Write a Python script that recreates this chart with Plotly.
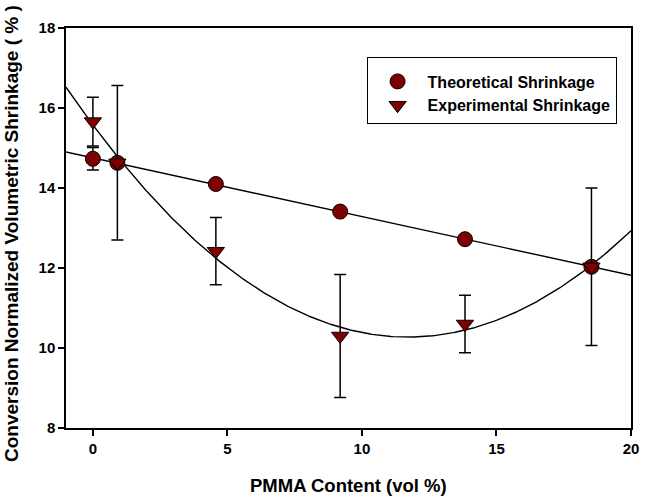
import numpy as np
import plotly.graph_objects as go

# Data
pmma_content = [0.0, 0.91, 4.57, 9.19, 13.83, 18.53]
theoretical_shrinkage = [14.73, 14.63, 14.10, 13.41, 12.72, 12.03]
theoretical_err = [0.28, 0.0, 0.0, 0.0, 0.0, 0.0]
experimental_shrinkage = [15.66, 14.63, 12.42, 10.30, 10.60, 12.03]
experimental_err = [0.61, 1.93, 0.84, 1.54, 0.72, 1.97]

x_ticks = [0, 5, 10, 15, 20]
y_ticks = [8, 10, 12, 14, 16, 18]
x_range = [-1, 20]
y_range = [8, 18]

# Regression curves fitted to the data (linear and quadratic)
xfit = np.linspace(x_range[0], x_range[1], 300)
lin = np.polyfit(pmma_content, theoretical_shrinkage, 1)
quad = np.polyfit(pmma_content, experimental_shrinkage, 2)

MARKER = "#7f0000"
FONT = "Liberation Sans, Arial, sans-serif"

fig = go.Figure()
fig.add_trace(go.Scatter(x=xfit, y=np.polyval(lin, xfit), mode="lines",
                         line=dict(color="black", width=1.4), showlegend=False,
                         hoverinfo="skip"))
fig.add_trace(go.Scatter(x=xfit, y=np.polyval(quad, xfit), mode="lines",
                         line=dict(color="black", width=1.4), showlegend=False,
                         hoverinfo="skip"))
fig.add_trace(go.Scatter(
    x=pmma_content, y=theoretical_shrinkage, mode="markers",
    name="Theoretical Shrinkage",
    marker=dict(symbol="circle", size=15, color=MARKER,
                line=dict(color="black", width=1)),
    error_y=dict(type="data", array=theoretical_err, color="black",
                 thickness=1.5, width=6, visible=True),
))
fig.add_trace(go.Scatter(
    x=pmma_content, y=experimental_shrinkage, mode="markers",
    name="Experimental Shrinkage",
    marker=dict(symbol="triangle-down", size=15, color=MARKER,
                line=dict(color="black", width=1)),
    error_y=dict(type="data", array=experimental_err, color="black",
                 thickness=1.5, width=6, visible=True),
))

axis_common = dict(showgrid=False, zeroline=False, showline=True,
                   linecolor="black", linewidth=1.5, mirror=True,
                   ticks="outside", ticklen=6, tickwidth=1.5, tickcolor="black",
                   tickfont=dict(family=FONT, size=15, color="black", weight="bold"))

fig.update_layout(
    width=648, height=501,
    margin=dict(l=66, r=9, t=28, b=73),
    paper_bgcolor="white", plot_bgcolor="white",
    font=dict(family=FONT, color="black"),
    xaxis=dict(range=x_range, tickvals=x_ticks, **axis_common),
    yaxis=dict(range=y_range, tickvals=y_ticks, **axis_common),
    legend=dict(x=0.532, y=0.9275, xanchor="left", yanchor="top",
                bgcolor="white", bordercolor="black", borderwidth=1,
                font=dict(family=FONT, size=16, color="black", weight="bold"),
                itemwidth=50, entrywidth=228, entrywidthmode="pixels",
                title=dict(text=" ", font=dict(size=5))),
    annotations=[
        dict(text="PMMA Content (vol %)", xref="paper", yref="paper",
             x=0.5, y=0, yshift=-57, xanchor="center", yanchor="middle",
             showarrow=False,
             font=dict(family=FONT, size=18.5, color="black", weight="bold")),
        dict(text="Conversion Normalized Volumetric Shrinkage ( % )", xref="paper",
             yref="paper", x=0, y=0.5, xshift=-55, yshift=-6, xanchor="center",
             yanchor="middle", textangle=-90, showarrow=False,
             font=dict(family=FONT, size=19, color="black", weight="bold")),
    ],
)

fig.write_html("out.html", config={"displayModeBar": False},
               post_script="document.body.style.margin='0';")
